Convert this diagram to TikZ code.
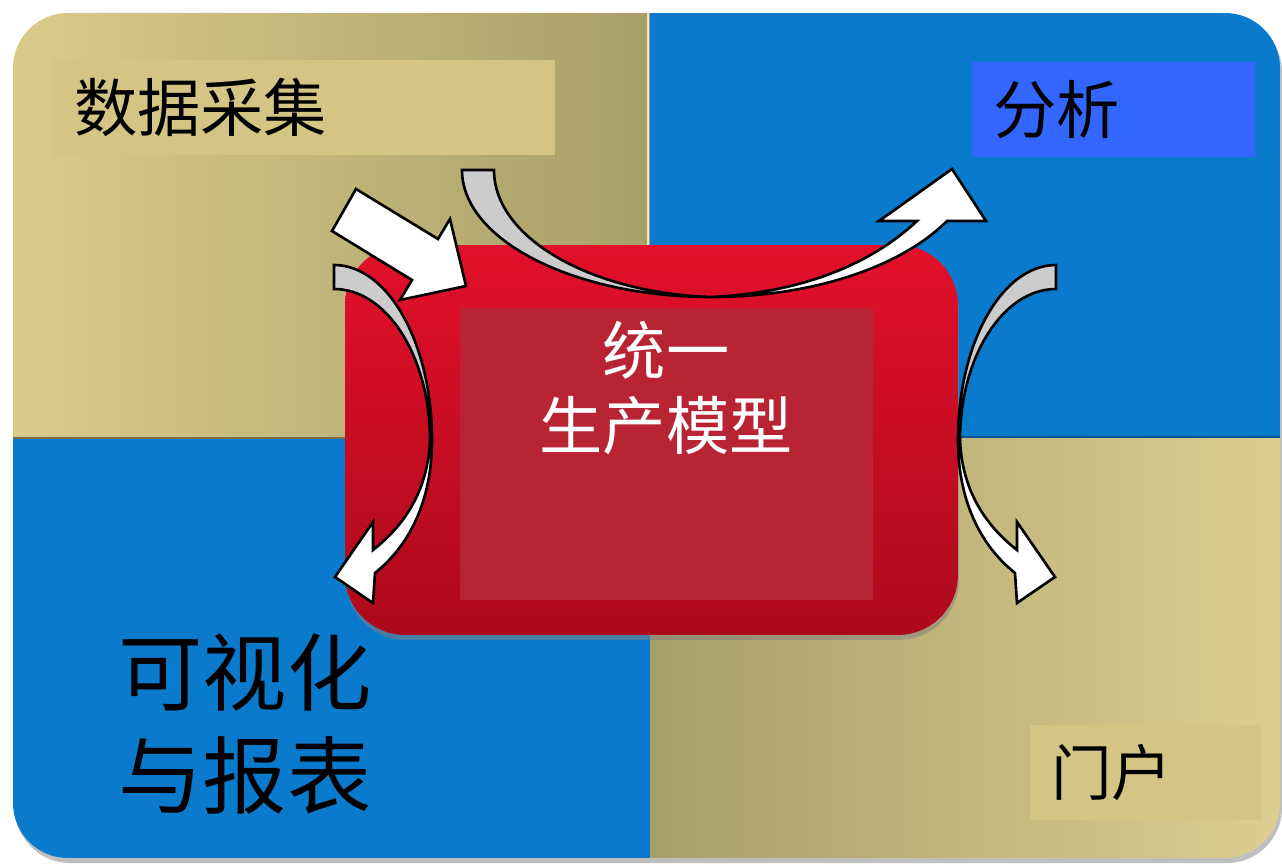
\documentclass[tikz,border=0pt]{standalone}
\usepackage{fontspec}
\newfontfamily\cjk{Noto Sans CJK SC}
\usetikzlibrary{positioning,shadows}
\definecolor{tanlight}{HTML}{DACB8A}
\definecolor{tandark}{HTML}{A89F68}
\definecolor{tanbox}{HTML}{D5C584}
\definecolor{quadblue}{HTML}{0A7ACD}
\definecolor{boxblue}{HTML}{3366FF}
\definecolor{redtop}{HTML}{E3102A}
\definecolor{redbottom}{HTML}{AC0A1B}
\definecolor{corered}{HTML}{B92434}
\definecolor{undergray}{HTML}{CCCCCC}

\begin{document}
\begin{tikzpicture}[x=0.02cm,y=-0.02cm,
tag/.style={rectangle,fill=tanbox,minimum height=1.9cm,inner xsep=0.42cm,align=left,font=\cjk\fontsize{36}{43}\selectfont},
bent/.style={draw=black,line width=1.5pt,line join=miter,fill=white},
under/.style={bent,fill=undergray}]
\useasboundingbox (0,0) rectangle (1282,868);

% backdrop
\fill[black!25,rounded corners=1.1cm] (15,17) rectangle (1282,863);
\begin{scope}
\clip[rounded corners=1.1cm] (13,13) rectangle (1280,858);
\shade[left color=tanlight,right color=tandark] (13,13) rectangle (650,438);
\fill[quadblue] (650,13) rectangle (1280,438);
\fill[quadblue] (13,438) rectangle (650,858);
\shade[left color=tandark,right color=tanlight!95!white] (650,438) rectangle (1280,858);
\draw[tanlight!50!white,line width=1pt] (648,13) -- (648,438);
\draw[quadblue!70!black,line width=1.2pt] (650,437) -- (1280,437);
\draw[tandark!70!black,line width=0.8pt] (13,438) -- (650,438);
\end{scope}

\node (collect) [tag,minimum width=10.04cm,text width=9.2cm] at (304,107.5) {数据采集};
\node (analyse) [tag,fill=boxblue,minimum width=5.66cm,text width=4.82cm] at (1113.5,109.5) {分析};
\node (portal) [tag,minimum width=4.64cm,text width=3.8cm,font=\cjk\fontsize{34.5}{40}\selectfont] at (1146,772.5) {门户};
\node (report) [align=center,font=\cjk\fontsize{48}{59}\selectfont] at (245,724) {可视化\\与报表};

% centre block
\node (model) [rectangle,rounded corners=1.2cm,minimum width=12.26cm,minimum height=7.8cm,
    top color=redtop,bottom color=redbottom,
    drop shadow={opacity=0.5,shadow xshift=0.02cm,shadow yshift=-0.1cm}] at (651.5,440) {};
\node (core) [rectangle,fill=corered,minimum width=8.26cm,minimum height=5.84cm] at (666.5,454) {};
\node (title) [text=white,align=center,font=\cjk\fontsize{36}{42.5}\selectfont] at (666,388) {统一\\生产模型};

% arrows
\draw[bent] (332,231) -- (356,189) -- (438,239) -- (450,219) -- (466,286) -- (400,300) -- (412,280) -- cycle;

\draw[under] (462,170) .. controls (462,240) and (574,297) .. (711,297) .. controls (591,293) and (494,238) .. (494,170) -- cycle;
\draw[bent] (711,297) .. controls (810,297) and (900,268) .. (947,221) -- (986,221) -- (952,169) -- (879,221) -- (917,221) .. controls (870,265) and (800,293) .. (711,297) -- cycle;

\draw[under] (334,265) .. controls (388,265) and (432,343) .. (432,440) -- (430,440) .. controls (430,357) and (387,289) .. (334,289) -- cycle;
\draw[bent] (432,440) .. controls (432,500) and (410,545) .. (375,573) -- (373,603) -- (335,577) -- (373,522) -- (373,550) .. controls (405,525) and (428,490) .. (430,440) -- cycle;

\draw[under] (1056,265) .. controls (1002,265) and (958,343) .. (958,440) -- (960,440) .. controls (960,357) and (1003,289) .. (1056,289) -- cycle;
\draw[bent] (958,440) .. controls (958,500) and (980,545) .. (1015,573) -- (1017,603) -- (1055,577) -- (1017,522) -- (1017,550) .. controls (985,525) and (962,490) .. (960,440) -- cycle;
\end{tikzpicture}
\end{document}
